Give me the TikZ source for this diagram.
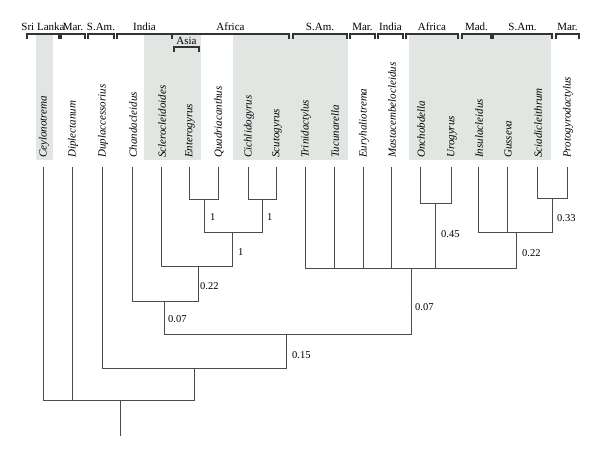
\documentclass[tikz,border=0pt]{standalone}
\usepackage{fontspec}
\setmainfont{Liberation Serif}
\begin{document}
\begin{tikzpicture}[x=1pt,y=-1pt,
  tree/.style={draw=black!70,line width=0.8pt},
  brk/.style={draw=black!80,line width=1.1pt},
  shade/.style={fill=shadegray,draw=none},
  taxon/.style={rotate=90,anchor=west,inner sep=0pt,font=\fontsize{11}{12}\selectfont\itshape},
  region/.style={inner sep=0pt,font=\fontsize{11}{12}\selectfont},
  supp/.style={anchor=west,inner sep=0pt,font=\fontsize{10.5}{12}\selectfont}]
\definecolor{shadegray}{HTML}{E1E6E2}
\useasboundingbox (0,0) rectangle (600,456);
% shaded boxes
\fill[shade] (36,35) rectangle (53,160);
\fill[shade] (144,35) rectangle (201,160);
\fill[shade] (233,35) rectangle (348,160);
\fill[shade] (409,35) rectangle (551,160);
% header brackets
\foreach \a/\b/\t in {27/59/Sri Lanka,61/85/Mar.,88/114/S.Am.,117/172/India,172/289/Africa,293/347/S.Am.,350/375/Mar.,378/403/India,406/458/Africa,462/491/Mad.,493/552/S.Am.,556/579/Mar.}{
  \draw[brk] (\a,39) -- (\a,34) -- (\b,34) -- (\b,39);
  \node[region,anchor=base] (h\a) at ({(\a+\b)/2},30) {\t};
}
\draw[brk] (174,52) -- (174,47) -- (199,47) -- (199,52);
\node[region,anchor=base] (hasia) at (186.5,44) {Asia};
% taxa
\foreach \i/\x/\t in {1/43/Ceylonotrema,2/72/Diplectanum,3/102/Duplaccessorius,4/132/Chandacleidus,
  5/161/Sclerocleidoides,6/189/Enterogyrus,7/218/Quadriacanthus,8/248/Cichlidogyrus,9/276/Scutogyrus,
  10/305/Trinidactylus,11/334/Tucunarella,12/363/Euryhaliotrema,13/391/Mastacembelocleidus,
  14/420/Onchobdella,15/451/Urogyrus,16/478/Insulacleidus,17/507/Gusseva,18/537/Sciadicleithrum,
  19/567/Protogyrodactylus}{
  \node[taxon] (l\i) at (\x+1,158) {\t};
  \coordinate (t\i) at (\x,167);
}
% internal nodes
\coordinate (n1) at (204,199);
\coordinate (n2) at (262,199);
\coordinate (n3) at (232,232);
\coordinate (n4) at (198,266);
\coordinate (n5) at (164,301);
\coordinate (n6) at (435,203);
\coordinate (n7) at (552,198);
\coordinate (n8) at (516,232);
\coordinate (n9) at (411,268);
\coordinate (n10) at (286,334);
\coordinate (n11) at (194,368);
\coordinate (n12) at (120,400);
\coordinate (root) at (120,436);
\foreach \c/\p in {t6/n1,t7/n1,t8/n2,t9/n2,n1/n3,n2/n3,t5/n4,n3/n4,t4/n5,n4/n5,
  t14/n6,t15/n6,t18/n7,t19/n7,t16/n8,t17/n8,n7/n8,
  t10/n9,t11/n9,t12/n9,t13/n9,n6/n9,n8/n9,
  n5/n10,n9/n10,t3/n11,n10/n11,t1/n12,t2/n12,n11/n12}{
  \draw[tree] (\c) |- (\p);
}
\draw[tree] (n12) -- (root);
% support values
\node[supp] (s1) at (210,217) {1};
\node[supp] (s2) at (267,217) {1};
\node[supp] (s3) at (238,252) {1};
\node[supp] (s4) at (200,286) {0.22};
\node[supp] (s5) at (168,319) {0.07};
\node[supp] (s6) at (441,234) {0.45};
\node[supp] (s7) at (557,218) {0.33};
\node[supp] (s8) at (522,253) {0.22};
\node[supp] (s9) at (415,307) {0.07};
\node[supp] (s10) at (292,355) {0.15};
\end{tikzpicture}
\end{document}
